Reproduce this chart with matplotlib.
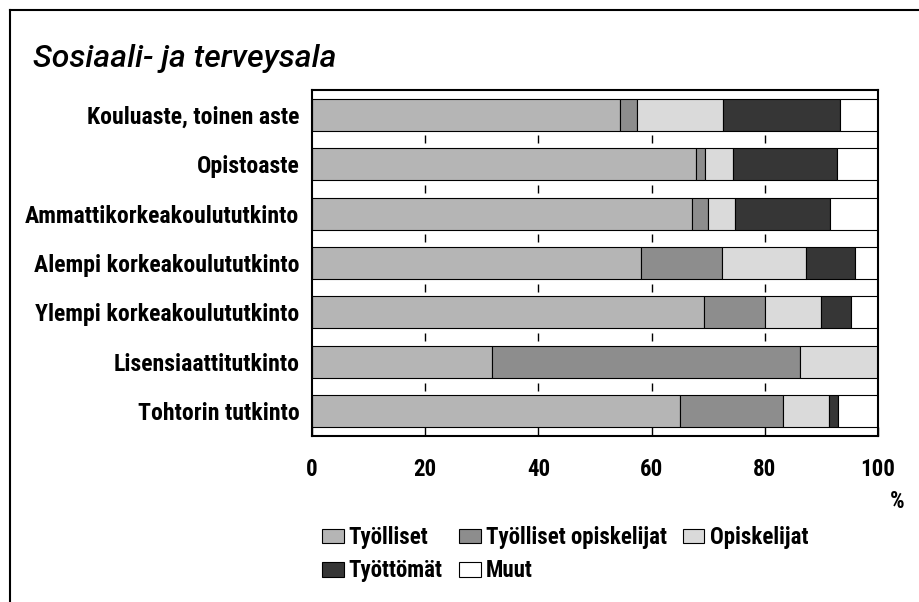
import matplotlib
matplotlib.use("Agg")
import matplotlib.pyplot as plt
from matplotlib import font_manager
from matplotlib.lines import Line2D
import numpy as np

# pick a narrow font if one is there, the original uses a condensed grotesk
names = {f.name for f in font_manager.fontManager.ttflist}
if "Roboto Condensed" in names:
    family, scale = "Roboto Condensed", 1.0
elif "Liberation Sans Narrow" in names:
    family, scale = "Liberation Sans Narrow", 1.0
else:
    family, scale = "DejaVu Sans", 0.8
title_family = "Roboto" if "Roboto" in names else "DejaVu Sans"
plt.rcParams['font.family'] = [family, 'DejaVu Sans']

# data (% of graduates)
categories = ["Kouluaste, toinen aste", "Opistoaste", "Ammattikorkeakoulututkinto",
              "Alempi korkeakoulututkinto", "Ylempi korkeakoulututkinto",
              "Lisensiaattitutkinto", "Tohtorin tutkinto"]
tyolliset = [54.4, 67.9, 67.2, 58.1, 69.2, 31.8, 65.0]
tyolliset_opiskelijat = [3.0, 1.5, 2.8, 14.3, 10.9, 54.4, 18.3]
opiskelijat = [15.2, 4.9, 4.8, 14.9, 9.9, 13.8, 8.0]
tyottomat = [20.6, 18.5, 16.7, 8.7, 5.3, 0.0, 1.6]
muut = [6.8, 7.2, 8.5, 4.0, 4.7, 0.0, 7.1]
series_names = ["Työlliset", "Työlliset opiskelijat", "Opiskelijat", "Työttömät", "Muut"]
x_ticks = [0, 20, 40, 60, 80, 100]

colors = ["#b5b5b5", "#8d8d8d", "#dadada", "#363636", "#ffffff"]

fs = 16.5 * scale

fig = plt.figure(figsize=(9.2, 6.02), dpi=100)
ax = fig.add_axes([312 / 920, 1 - 436 / 602, 566 / 920, 346 / 602])

y = np.arange(len(categories))
left = np.zeros(len(categories))
for vals, name, col in zip([tyolliset, tyolliset_opiskelijat, opiskelijat, tyottomat, muut],
                           series_names, colors):
    vals = np.array(vals)
    ax.barh(y, vals, left=left, height=0.65, color=col, edgecolor="black",
            linewidth=0.8, label=name, zorder=2)
    left += vals

# little marks between the bars
for i in range(len(categories) - 1):
    ax.vlines([20, 40, 60, 80], i + 0.5 - 0.08, i + 0.5 + 0.08, color="black", lw=1, zorder=1)

ax.set_xlim(0, 100)
ax.set_ylim(len(categories) - 0.5, -0.5)
ax.set_yticks(y)
ax.set_yticklabels(categories, fontsize=fs + 0.6, fontweight="bold")
ax.set_xticks(x_ticks)
ax.set_xticklabels([str(t) for t in x_ticks], fontsize=fs, fontweight="bold")
ax.tick_params(axis="y", length=0, pad=9)
ax.tick_params(axis="x", direction="in", length=6.5, width=1, pad=16)
for s in ax.spines.values():
    s.set_linewidth(1.5)

fig.text(897 / 920, 1 - 501 / 602, "%", fontsize=fs, fontweight="bold",
         ha="center", va="center")
fig.text(33 / 920, 1 - 67 / 602, "Sosiaali- ja terveysala", fontsize=23 * scale,
         family=[title_family, "DejaVu Sans"], style="italic", fontweight="medium",
         ha="left", va="baseline")

# legend filled row by row
handles, labels = ax.get_legend_handles_labels()
order = [0, 3, 1, 4, 2]
leg = fig.legend([handles[i] for i in order], [labels[i] for i in order], ncol=3,
                 loc="upper left", bbox_to_anchor=(322 / 920, 1 - 526 / 602),
                 frameon=False, prop={"size": fs, "weight": "bold"},
                 handlelength=0.95, handleheight=0.6, handletextpad=0.22,
                 columnspacing=0.7, labelspacing=0.45, borderpad=0, borderaxespad=0)

# page frame, top and left edge
fig.add_artist(Line2D([10 / 920, 1], [1 - 10 / 602, 1 - 10 / 602], color="black", lw=1.5))
fig.add_artist(Line2D([10 / 920, 10 / 920], [0, 1 - 10 / 602], color="black", lw=1.5))

fig.savefig("out.png", dpi=100)
